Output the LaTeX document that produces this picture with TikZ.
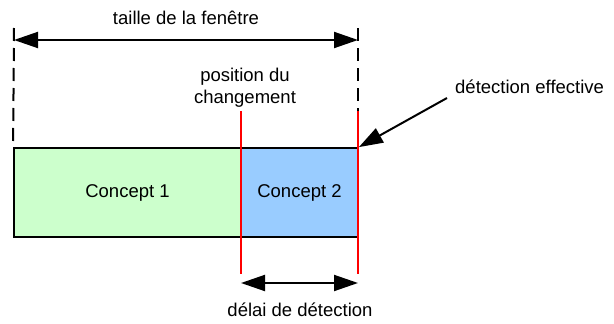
\documentclass[tikz,border=0pt]{standalone}
\usepackage{fontspec}
\setmainfont{Liberation Sans}
\usetikzlibrary{arrows.meta,positioning}
\definecolor{conceptA}{HTML}{CCFFCC}
\definecolor{conceptB}{HTML}{99CCFF}

\begin{document}
\begin{tikzpicture}[x=1pt, y=-1pt, every node/.style={font=\fontsize{18.5}{22}\selectfont, align=center, inner sep=0pt},
		box/.style={draw=black, line width=1.8pt, minimum height=89pt},
		dimarrow/.style={{Triangle[length=24pt,width=16pt]}-{Triangle[length=24pt,width=16pt]}, line width=2pt},
		pointer/.style={-{Triangle[length=24pt,width=16pt]}, line width=2pt},
		marker/.style={red, line width=2pt},
		bound/.style={line width=2pt, dash pattern=on 13pt off 7pt}]
		\useasboundingbox (0,0) rectangle (614,324);
		% the two concepts
		\node[box, fill=conceptA, minimum width=227pt] (C1) at (127.5,192.5) {Concept 1};
		\node[box, fill=conceptB, minimum width=117pt] (C2) at (299.5,192.5) {Concept 2};
		% window limits
		\coordinate (wl) at (14,28);
		\coordinate (wr) at (358,28);
		\coordinate (ml) at (241,111);
		\coordinate (mr) at (358,111);
		\coordinate (ql) at (241,274);
		\coordinate (qr) at (358,274);
		\coordinate (tl) at (14,40);
		\coordinate (tr) at (358,40);
		\coordinate (dl) at (241,283);
		\coordinate (dr) at (358,283);
		\coordinate (tail) at (447,98);
		\draw[bound] (wl) -- (C1.north west);
		\draw[bound] (wr) -- (mr);
		\draw[marker] (ml) -- (ql);
		\draw[marker] (mr) -- (qr);
		% labels
		\node (taille) at (186,18) {taille de la fenêtre};
		\node (pos) at (245,88) {position du\\changement};
		\node[anchor=west] (eff) at (455,87) {détection effective};
		\node (delai) at (300,310) {délai de détection};
		% arrows
		\draw[dimarrow] (tl) -- (tr);
		\draw[dimarrow] (dl) -- (dr);
		\draw[pointer] (tail) -- (C2.north east);
	\end{tikzpicture}
\end{document}
